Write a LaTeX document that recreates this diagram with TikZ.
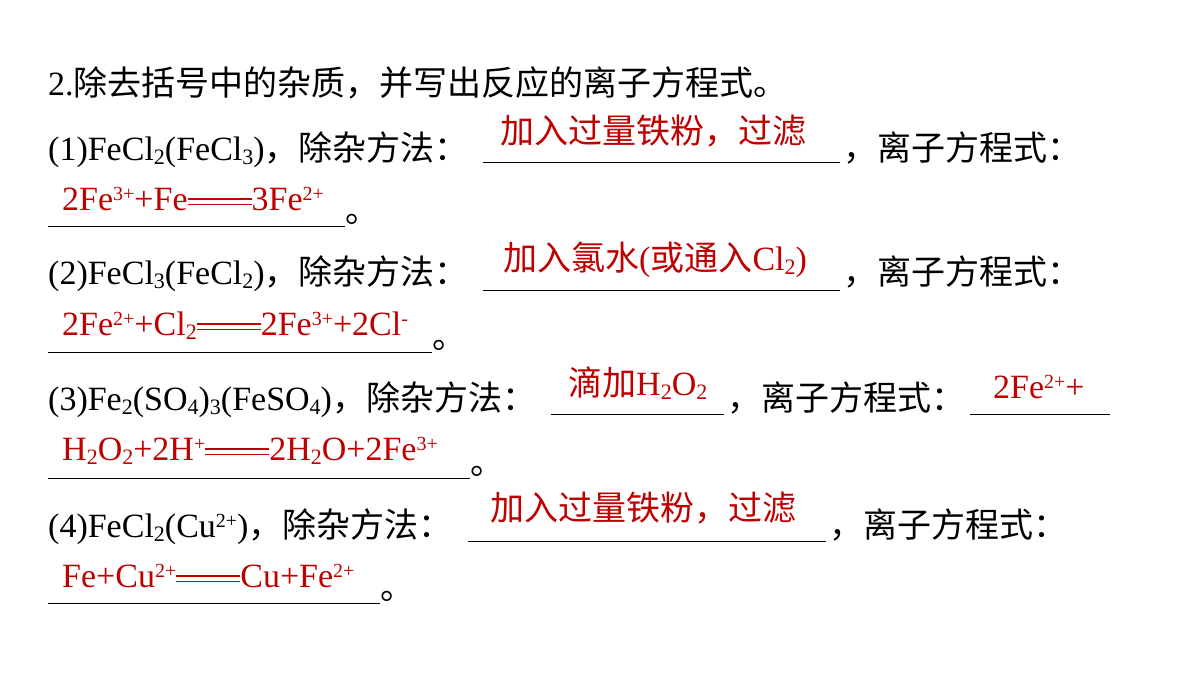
\documentclass[tikz,border=0pt]{standalone}
\usepackage{fontspec}
\setmainfont{Liberation Serif}
\newfontfamily\cjk{Noto Sans CJK SC}
\usetikzlibrary{positioning}
\definecolor{ansred}{HTML}{C00000}
\newcommand{\dbleq}{\makebox[64pt]{\rule[5pt]{64pt}{1.3pt}}\llap{\rule[10.5pt]{64pt}{1.3pt}}}
\newcommand{\sps}[1]{\raisebox{10pt}{\fontsize{20}{21}\selectfont #1}}
\newcommand{\sbs}[1]{\raisebox{-4pt}{\fontsize{22}{23}\selectfont #1}}
\begin{document}
\begin{tikzpicture}[x=1pt,y=-1pt,
    txt/.style={inner sep=0pt, anchor=base west, font=\fontsize{34}{38}\selectfont},
    ans/.style={txt, text=ansred},
    blank/.style={line width=0.8pt},
]
\useasboundingbox[fill=white] (0,0) rectangle (1200,675);
% question
\node[txt] (q0) at (48,95) {2.{\cjk 除去括号中的杂质，并写出反应的离子方程式。}};
% (1)
\node[txt] (q1) at (48,160) {(1)FeCl\sbs{2}(FeCl\sbs{3}){\cjk ，除杂方法：}};
\draw[blank] (483,162) coordinate (u1a) -- (840,162) coordinate (u1b);
\node[ans] (a1) at (500,143) {\cjk 加入过量铁粉，过滤};
\node[txt] (q1b) at (843,160) {\cjk ，离子方程式：};
\node[ans] (e1) at (62,210) {2Fe\sps{3+}+Fe\dbleq3Fe\sps{2+}};
\draw[blank] (48,226) coordinate (v1a) -- (345,226) coordinate (v1b);
\node[txt] (d1) at (345,222) {\cjk 。};
% (2)
\node[txt] (q2) at (48,284) {(2)FeCl\sbs{3}(FeCl\sbs{2}){\cjk ，除杂方法：}};
\draw[blank] (483,290) coordinate (u2a) -- (840,290) coordinate (u2b);
\node[ans] (a2) at (503,270) {{\cjk 加入氯水}({\cjk 或通入}Cl\sbs{2})};
\node[txt] (q2b) at (843,284) {\cjk ，离子方程式：};
\node[ans] (e2) at (62,335) {2Fe\sps{2+}+Cl\sbs{2}\dbleq2Fe\sps{3+}+2Cl\sps{-}};
\draw[blank] (48,352) coordinate (v2a) -- (432,352) coordinate (v2b);
\node[txt] (d2) at (432,348) {\cjk 。};
% (3)
\node[txt] (q3) at (48,410) {(3)Fe\sbs{2}(SO\sbs{4})\sbs{3}(FeSO\sbs{4}){\cjk ，除杂方法：}};
\draw[blank] (551,414) coordinate (u3a) -- (724,414) coordinate (u3b);
\node[ans] (a3) at (568,395) {{\cjk 滴加}H\sbs{2}O\sbs{2}};
\node[txt] (q3b) at (727,410) {\cjk ，离子方程式：};
\draw[blank] (970,414) coordinate (w3a) -- (1110,414) coordinate (w3b);
\node[ans] (e3a) at (993,398) {2Fe\sps{2+}+};
\node[ans] (e3) at (62,460) {H\sbs{2}O\sbs{2}+2H\sps{+}\dbleq2H\sbs{2}O+2Fe\sps{3+}};
\draw[blank] (48,478) coordinate (v3a) -- (470,478) coordinate (v3b);
\node[txt] (d3) at (470,474) {\cjk 。};
% (4)
\node[txt] (q4) at (48,537) {(4)FeCl\sbs{2}(Cu\sps{2+}){\cjk ，除杂方法：}};
\draw[blank] (468,541) coordinate (u4a) -- (826,541) coordinate (u4b);
\node[ans] (a4) at (490,520) {\cjk 加入过量铁粉，过滤};
\node[txt] (q4b) at (829,537) {\cjk ，离子方程式：};
\node[ans] (e4) at (62,587) {Fe+Cu\sps{2+}\dbleq Cu+Fe\sps{2+}};
\draw[blank] (48,603) coordinate (v4a) -- (380,603) coordinate (v4b);
\node[txt] (d4) at (380,599) {\cjk 。};
\end{tikzpicture}
\end{document}
